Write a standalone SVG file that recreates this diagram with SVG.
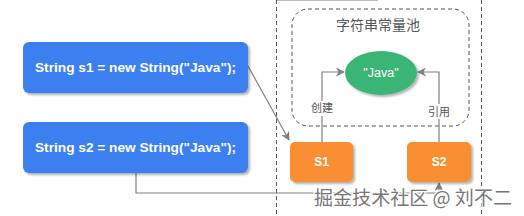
<svg xmlns="http://www.w3.org/2000/svg" width="524" height="216" viewBox="0 0 524 216">
<defs>
<style>
.code{fill:#3b7ff0;}
.codeText{font-family:"Comic Sans MS","Liberation Sans",sans-serif;font-size:13px;font-weight:bold;fill:#fff;}
.sbox{fill:#f98f30;}
.stext{font-family:"Liberation Sans",sans-serif;font-size:12px;font-weight:bold;fill:#fff;}
.conn{fill:none;stroke:#808080;stroke-width:1.2;}
.lbl{font-family:"Noto Sans CJK SC",sans-serif;font-size:11px;fill:#555;}
.dash{fill:none;stroke:#555;stroke-width:1;stroke-dasharray:4 3;}
</style>
<marker id="arr" viewBox="0 0 10 10" refX="9" refY="5" markerWidth="9" markerHeight="9" markerUnits="userSpaceOnUse" orient="auto">
<path d="M0,0 L10,5 L0,10 L3,5 Z" fill="#808080"/>
</marker>
<filter id="sh" x="-10%" y="-10%" width="130%" height="140%">
<feDropShadow dx="2" dy="2" stdDeviation="1.2" flood-color="#000" flood-opacity="0.3"/>
</filter>
</defs>
<rect width="524" height="216" fill="#fff"/>
<g id="frame">
<line x1="277" y1="0.5" x2="378" y2="0.5" stroke="#bbb" stroke-width="1"/>
<line x1="276.5" y1="0" x2="276.5" y2="216" class="dash"/>
<line x1="481.5" y1="0" x2="481.5" y2="216" class="dash"/>
</g>
<g id="pool">
<rect x="292" y="9" width="177" height="117" rx="16" class="dash"/>
<text x="378" y="30" text-anchor="middle" font-family="Noto Sans CJK SC,sans-serif" font-size="14" fill="#555">字符串常量池</text>
</g>
<g id="connectors">
<polyline class="conn" points="248,66 289,140" marker-end="url(#arr)"/>
<polyline class="conn" points="322,142 322,72 344,72" marker-end="url(#arr)"/>
<polyline class="conn" points="439,142 439,72 418,72" marker-end="url(#arr)"/>
<polyline class="conn" points="136,173 136,193 439,193 439,183" marker-end="url(#arr)"/>
<rect x="308" y="101" width="28" height="15" fill="#fff"/>
<text x="322" y="112" text-anchor="middle" class="lbl">创建</text>
<rect x="425" y="104" width="28" height="15" fill="#fff"/>
<text x="439" y="116" text-anchor="middle" class="lbl">引用</text>
</g>
<g id="code1">
<rect x="23" y="42" width="225" height="51" rx="6" class="code" filter="url(#sh)"/>
<text x="35" y="72" textLength="201" lengthAdjust="spacingAndGlyphs" class="codeText">String s1 = new String("Java");</text>
</g>
<g id="code2">
<rect x="23" y="122" width="225" height="51" rx="6" class="code" filter="url(#sh)"/>
<text x="35" y="152" textLength="201" lengthAdjust="spacingAndGlyphs" class="codeText">String s2 = new String("Java");</text>
</g>
<g id="java">
<ellipse cx="381" cy="73" rx="36" ry="22" fill="#3bb574" filter="url(#sh)"/>
<text x="381" y="77" text-anchor="middle" font-family="Liberation Sans,sans-serif" font-size="12.5" fill="#fff">"Java"</text>
</g>
<g id="s1">
<rect x="290" y="142" width="63" height="40" rx="5" class="sbox" filter="url(#sh)"/>
<text x="321.5" y="166" text-anchor="middle" class="stext">S1</text>
</g>
<g id="s2">
<rect x="407" y="142" width="64" height="40" rx="5" class="sbox" filter="url(#sh)"/>
<text x="439" y="166" text-anchor="middle" class="stext">S2</text>
</g>
<g id="watermark">
<text x="314" y="205" textLength="198" lengthAdjust="spacingAndGlyphs" font-family="Noto Sans CJK SC,sans-serif" font-size="19" fill="#777" stroke="#fff" stroke-width="2.5" paint-order="stroke">掘金技术社区 @ 刘不二</text>
</g>
</svg>
